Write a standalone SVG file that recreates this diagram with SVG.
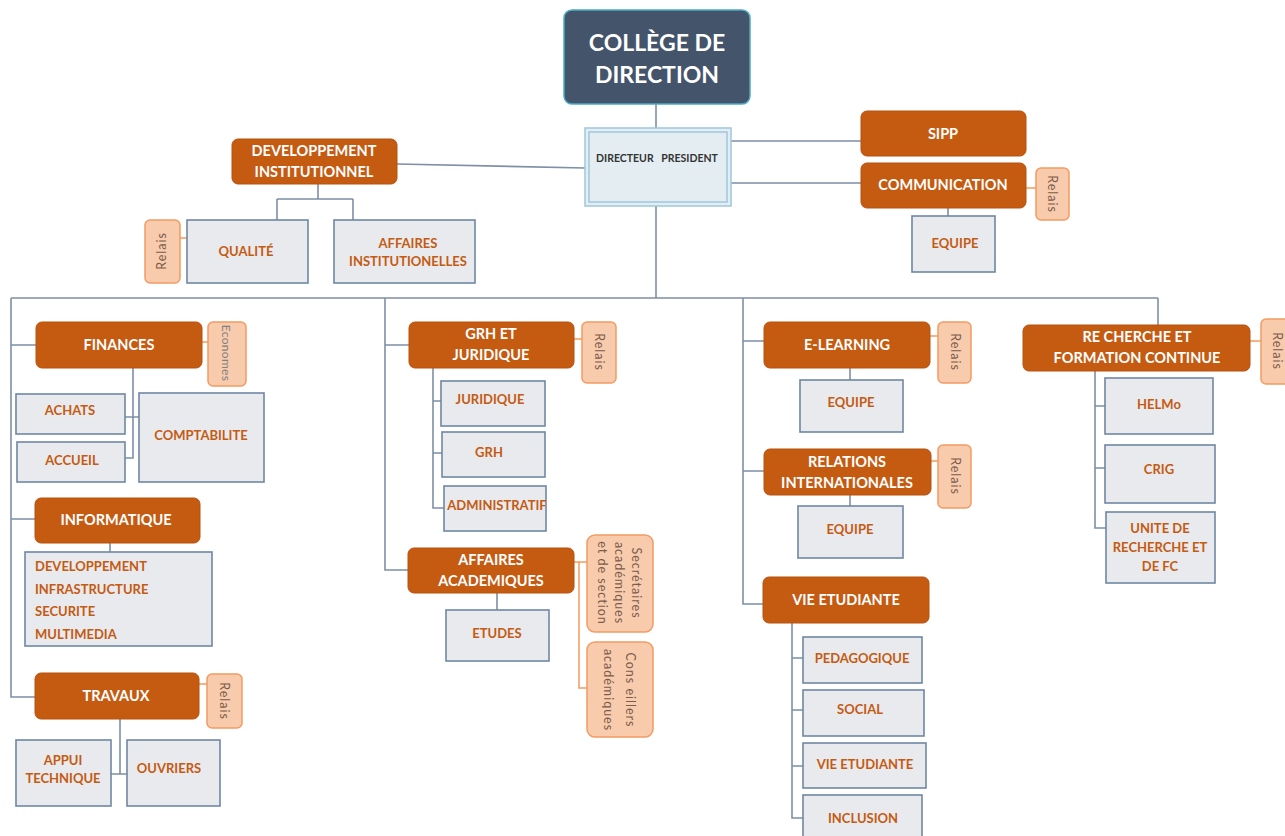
<svg xmlns="http://www.w3.org/2000/svg" width="1285" height="836" viewBox="0 0 1285 836">
<style>
.bg{fill:#ffffff}
.ob{fill:#C55A11;stroke:#B9520F;stroke-width:1}
.ot{fill:#ffffff;font-family:Lato,"Liberation Sans",sans-serif;font-weight:bold;font-size:14.5px;text-anchor:middle}
.gb{fill:#E8EAEE;stroke:#6F87A3;stroke-width:1.6}
.gt{fill:#C55A11;font-family:Lato,"Liberation Sans",sans-serif;font-weight:bold;font-size:13px;text-anchor:middle}
.gtl{fill:#C55A11;font-family:Lato,"Liberation Sans",sans-serif;font-weight:bold;font-size:13px}
.rb{fill:#F8CBAD;stroke:#F29B62;stroke-width:1.5}
.rt{fill:#7B5B4B;font-family:Lato,"Liberation Sans",sans-serif;font-size:12.5px;letter-spacing:1px;text-anchor:middle}
.cn{fill:none;stroke:#7E8FA6;stroke-width:1.6}
.co{fill:none;stroke:#F29B62;stroke-width:1.5}
</style>
<rect class="bg" x="0" y="0" width="1285" height="836"/>

<g id="connectors">
  <path class="cn" d="M656 104V128M656 206V298M11 298H1158M11 298V697H35M11 345H36M11 519H35M385 298V570H408M385 345H409M743 298V604H763M743 341H764M743 471H764M1158 298V325"/>
  <path class="cn" d="M397 164L585 168M731 141H861M731 183H861M948 208V216"/>
  <path class="cn" d="M318 184V199M277 199H353M277 199V220M353 199V220"/>
  <path class="cn" d="M133 368V458H125M125 417H139M110 543V552M120 719V774M111 774H127"/>
  <path class="cn" d="M433 368V508H444M433 401H441M433 453H442M497 593V610"/>
  <path class="cn" d="M850 368V380M850 495V506M792 623V818H803M792 658H803M792 710H803M792 766H803"/>
  <path class="cn" d="M1095 371V528H1106M1095 406H1105M1095 468H1105"/>
  <path class="co" d="M180 238H187M1026 188H1036M202 342H208M199 684H207M574 339H582M574 562H587M579 562V688H587M930 336H938M931 461H938M1250 341H1261"/>
</g>

<g id="college">
  <rect x="564" y="10" width="186" height="94" rx="8" fill="#44546A" stroke="#4BACC6" stroke-width="1.5"/>
  <text x="657" y="51" fill="#ffffff" font-family="Lato,'Liberation Sans',sans-serif" font-weight="bold" font-size="23" text-anchor="middle">COLLÈGE DE</text>
  <text x="657" y="83" fill="#ffffff" font-family="Lato,'Liberation Sans',sans-serif" font-weight="bold" font-size="23" text-anchor="middle">DIRECTION</text>
</g>

<g id="directeur">
  <rect x="585" y="128" width="146" height="78" fill="#E4EEF2" stroke="#9DC8DC" stroke-width="1.5"/>
  <rect x="589" y="132" width="138" height="70" fill="none" stroke="#9DC8DC" stroke-width="1.5"/>
  <text x="657" y="162" fill="#333333" font-family="Lato,'Liberation Sans',sans-serif" font-weight="bold" font-size="10.5" text-anchor="middle" xml:space="preserve">DIRECTEUR   PRESIDENT</text>
</g>

<g id="dev-inst">
  <rect class="ob" x="232" y="139" width="165" height="45" rx="6"/>
  <text class="ot" x="314" y="156">DEVELOPPEMENT</text>
  <text class="ot" x="314" y="177">INSTITUTIONNEL</text>
</g>
<g id="relais-qualite">
  <rect class="rb" x="145" y="220" width="35" height="63" rx="5"/>
  <text class="rt" transform="translate(166,251) rotate(-90)">Relais</text>
</g>
<g id="qualite">
  <rect class="gb" x="187" y="220" width="121" height="63"/>
  <text class="gt" x="246" y="256">QUALITÉ</text>
</g>
<g id="affaires-inst">
  <rect class="gb" x="334" y="220" width="141" height="63"/>
  <text class="gt" x="408" y="248">AFFAIRES</text>
  <text class="gt" x="408" y="266">INSTITUTIONELLES</text>
</g>

<g id="sipp">
  <rect class="ob" x="861" y="111" width="165" height="45" rx="6"/>
  <text class="ot" x="943" y="139">SIPP</text>
</g>
<g id="communication">
  <rect class="ob" x="861" y="163" width="165" height="45" rx="6"/>
  <text class="ot" x="943" y="190">COMMUNICATION</text>
</g>
<g id="relais-comm">
  <rect class="rb" x="1036" y="168" width="33" height="52" rx="5"/>
  <text class="rt" transform="translate(1048,194) rotate(90)">Relais</text>
</g>
<g id="equipe-comm">
  <rect class="gb" x="912" y="216" width="83" height="56"/>
  <text class="gt" x="955" y="248">EQUIPE</text>
</g>

<g id="finances">
  <rect class="ob" x="36" y="322" width="166" height="46" rx="6"/>
  <text class="ot" x="119" y="350">FINANCES</text>
</g>
<g id="economes">
  <rect class="rb" x="208" y="322" width="38" height="64" rx="5"/>
  <text transform="translate(222,353) rotate(90)" fill="#808080" font-family="Lato,'Liberation Sans',sans-serif" font-size="12" letter-spacing="0.3" text-anchor="middle">Economes</text>
</g>
<g id="achats">
  <rect class="gb" x="16" y="394" width="109" height="40"/>
  <text class="gt" x="70" y="415">ACHATS</text>
</g>
<g id="accueil">
  <rect class="gb" x="17" y="442" width="108" height="40"/>
  <text class="gt" x="72" y="465">ACCUEIL</text>
</g>
<g id="comptabilite">
  <rect class="gb" x="139" y="393" width="125" height="89"/>
  <text class="gt" x="201" y="440">COMPTABILITE</text>
</g>

<g id="informatique">
  <rect class="ob" x="35" y="498" width="165" height="45" rx="6"/>
  <text class="ot" x="116" y="525">INFORMATIQUE</text>
</g>
<g id="info-services">
  <rect class="gb" x="25" y="552" width="187" height="94"/>
  <text class="gtl" x="35" y="571">DEVELOPPEMENT</text>
  <text class="gtl" x="35" y="594">INFRASTRUCTURE</text>
  <text class="gtl" x="35" y="616">SECURITE</text>
  <text class="gtl" x="35" y="639">MULTIMEDIA</text>
</g>

<g id="travaux">
  <rect class="ob" x="35" y="673" width="164" height="46" rx="6"/>
  <text class="ot" x="116" y="701">TRAVAUX</text>
</g>
<g id="relais-travaux">
  <rect class="rb" x="207" y="674" width="35" height="54" rx="5"/>
  <text class="rt" transform="translate(220,701) rotate(90)">Relais</text>
</g>
<g id="appui">
  <rect class="gb" x="16" y="740" width="95" height="66"/>
  <text class="gt" x="63" y="765">APPUI</text>
  <text class="gt" x="63" y="783">TECHNIQUE</text>
</g>
<g id="ouvriers">
  <rect class="gb" x="127" y="740" width="93" height="66"/>
  <text class="gt" x="169" y="773">OUVRIERS</text>
</g>

<g id="grh-juridique">
  <rect class="ob" x="409" y="322" width="165" height="46" rx="6"/>
  <text class="ot" x="491" y="339">GRH ET</text>
  <text class="ot" x="491" y="360">JURIDIQUE</text>
</g>
<g id="relais-grh">
  <rect class="rb" x="582" y="322" width="34" height="61" rx="5"/>
  <text class="rt" transform="translate(595,352) rotate(90)">Relais</text>
</g>
<g id="juridique">
  <rect class="gb" x="441" y="381" width="104" height="45"/>
  <text class="gt" x="490" y="404">JURIDIQUE</text>
</g>
<g id="grh">
  <rect class="gb" x="442" y="432" width="103" height="45"/>
  <text class="gt" x="489" y="457">GRH</text>
</g>
<g id="administratif">
  <rect class="gb" x="444" y="486" width="102" height="45"/>
  <text class="gt" x="497" y="510">ADMINISTRATIF</text>
</g>

<g id="affaires-acad">
  <rect class="ob" x="408" y="548" width="166" height="45" rx="6"/>
  <text class="ot" x="491" y="565">AFFAIRES</text>
  <text class="ot" x="491" y="586">ACADEMIQUES</text>
</g>
<g id="secretaires">
  <rect class="rb" x="587" y="535" width="66" height="97" rx="8"/>
  <text class="rt" font-size="12.5" letter-spacing="0.8" transform="translate(583,583) rotate(90)"><tspan x="0" y="-49">Secrétaires</tspan><tspan x="0" y="-32">académiques</tspan><tspan x="0" y="-15">et de section</tspan></text>
</g>
<g id="conseillers">
  <rect class="rb" x="587" y="642" width="66" height="95" rx="8"/>
  <text class="rt" font-size="12.5" letter-spacing="0.8" transform="translate(583,690) rotate(90)"><tspan x="0" y="-43">Cons eillers</tspan><tspan x="0" y="-21">académiques</tspan></text>
</g>
<g id="etudes">
  <rect class="gb" x="446" y="610" width="103" height="51"/>
  <text class="gt" x="497" y="638">ETUDES</text>
</g>

<g id="elearning">
  <rect class="ob" x="764" y="322" width="166" height="46" rx="6"/>
  <text class="ot" x="847" y="350">E-LEARNING</text>
</g>
<g id="relais-el">
  <rect class="rb" x="938" y="322" width="33" height="61" rx="5"/>
  <text class="rt" transform="translate(951,352) rotate(90)">Relais</text>
</g>
<g id="equipe-el">
  <rect class="gb" x="800" y="380" width="103" height="52"/>
  <text class="gt" x="851" y="407">EQUIPE</text>
</g>

<g id="rel-int">
  <rect class="ob" x="764" y="449" width="167" height="46" rx="6"/>
  <text class="ot" x="847" y="467">RELATIONS</text>
  <text class="ot" x="847" y="488">INTERNATIONALES</text>
</g>
<g id="relais-ri">
  <rect class="rb" x="938" y="445" width="33" height="63" rx="5"/>
  <text class="rt" transform="translate(951,476) rotate(90)">Relais</text>
</g>
<g id="equipe-ri">
  <rect class="gb" x="798" y="506" width="105" height="52"/>
  <text class="gt" x="850" y="534">EQUIPE</text>
</g>

<g id="vie-etudiante">
  <rect class="ob" x="763" y="577" width="166" height="46" rx="6"/>
  <text class="ot" x="846" y="605">VIE ETUDIANTE</text>
</g>
<g id="pedagogique">
  <rect class="gb" x="803" y="637" width="119" height="46"/>
  <text class="gt" x="862" y="663">PEDAGOGIQUE</text>
</g>
<g id="social">
  <rect class="gb" x="803" y="690" width="121" height="46"/>
  <text class="gt" x="860" y="714">SOCIAL</text>
</g>
<g id="vie-etud-2">
  <rect class="gb" x="803" y="743" width="123" height="45"/>
  <text class="gt" x="865" y="769">VIE ETUDIANTE</text>
</g>
<g id="inclusion">
  <rect class="gb" x="803" y="795" width="119" height="48"/>
  <text class="gt" x="863" y="823">INCLUSION</text>
</g>

<g id="recherche">
  <rect class="ob" x="1023" y="325" width="227" height="46" rx="6"/>
  <text class="ot" x="1137" y="342">RE CHERCHE ET</text>
  <text class="ot" x="1137" y="363">FORMATION CONTINUE</text>
</g>
<g id="relais-rech">
  <rect class="rb" x="1261" y="319" width="32" height="65" rx="5"/>
  <text class="rt" transform="translate(1273,351) rotate(90)">Relais</text>
</g>
<g id="helmo">
  <rect class="gb" x="1105" y="378" width="108" height="56"/>
  <text class="gt" x="1159" y="409">HELMo</text>
</g>
<g id="crig">
  <rect class="gb" x="1105" y="445" width="110" height="58"/>
  <text class="gt" x="1159" y="474">CRIG</text>
</g>
<g id="unite">
  <rect class="gb" x="1106" y="512" width="109" height="71"/>
  <text class="gt" x="1160" y="533">UNITE DE</text>
  <text class="gt" x="1160" y="552">RECHERCHE ET</text>
  <text class="gt" x="1160" y="571">DE FC</text>
</g>
</svg>
